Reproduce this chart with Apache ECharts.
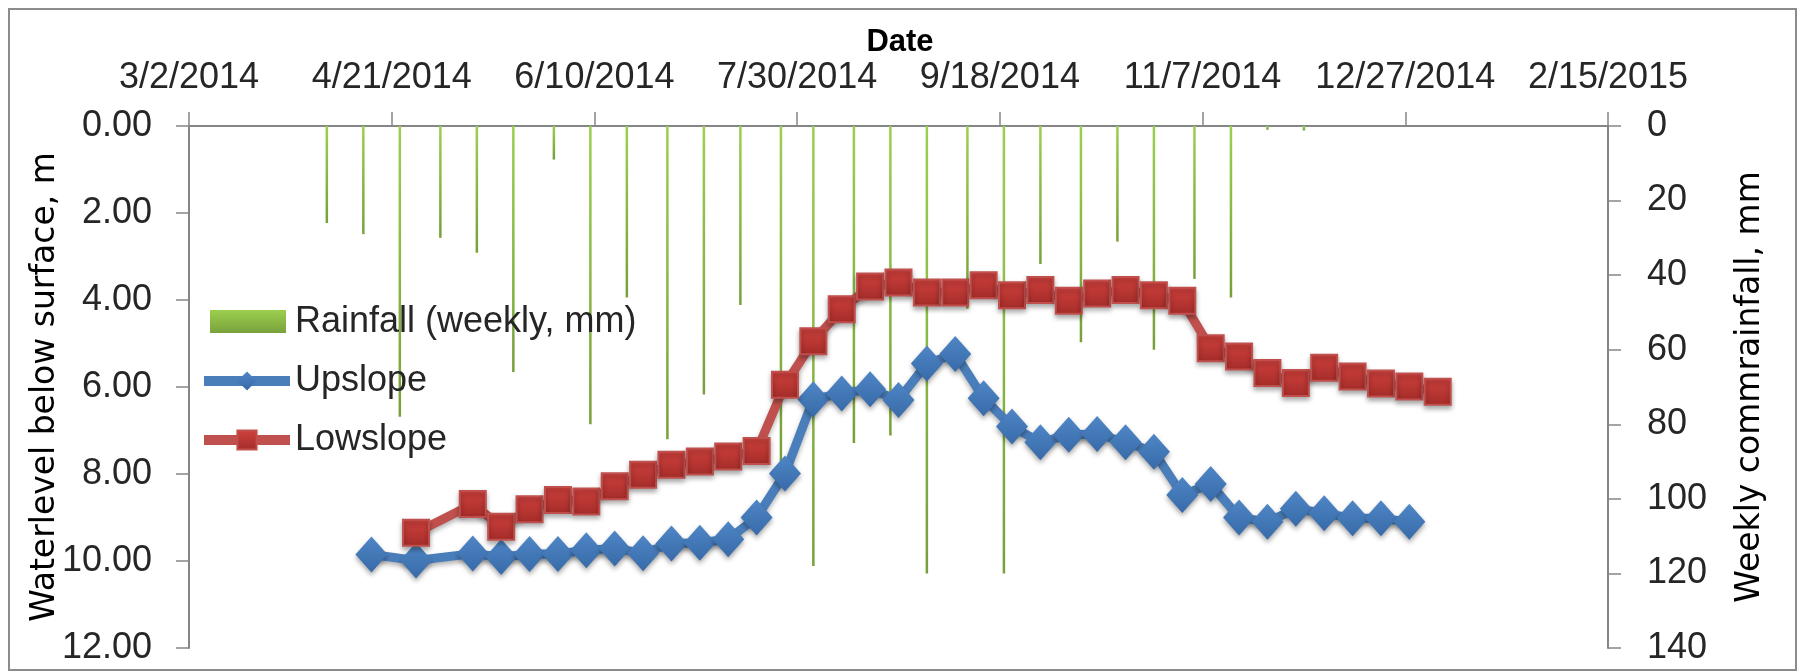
<!DOCTYPE html>
<html>
<head>
<meta charset="utf-8">
<script src="https://cdn.jsdelivr.net/npm/echarts@6/dist/echarts.min.js"></script>
<style>
  html, body { margin: 0; padding: 0; background: #fff; }
  #chart { width: 1801px; height: 672px; }
</style>
</head>
<body>
<div id="chart"></div>
<script>
// day 0 of the date axis
const startDate = '2014-03-02';

// weekly rainfall (mm)
const rainDates = ['2014-04-05', '2014-04-14', '2014-04-23', '2014-05-03', '2014-05-12', '2014-05-21',
    '2014-05-31', '2014-06-09', '2014-06-18', '2014-06-28', '2014-07-07', '2014-07-16', '2014-07-26',
    '2014-08-03', '2014-08-13', '2014-08-22', '2014-08-31', '2014-09-10', '2014-09-19', '2014-09-28',
    '2014-10-08', '2014-10-17', '2014-10-26', '2014-11-05', '2014-11-14', '2014-11-23', '2014-12-02'];
const rainfall = [26, 29, 78, 30, 34, 66, 9, 80, 46, 84, 72, 48, 90,
    118, 85, 83, 120, 49, 120, 37, 58, 31, 60, 41, 46, 1, 1.2];

// water level sampling dates
const sampleDates = ['2014-04-16', '2014-04-27', '2014-05-11', '2014-05-18', '2014-05-25', '2014-06-01',
    '2014-06-08', '2014-06-15', '2014-06-22', '2014-06-29', '2014-07-06', '2014-07-13', '2014-07-20',
    '2014-07-27', '2014-08-03', '2014-08-10', '2014-08-17', '2014-08-24', '2014-08-31', '2014-09-07',
    '2014-09-14', '2014-09-21', '2014-09-28', '2014-10-05', '2014-10-12', '2014-10-19', '2014-10-26',
    '2014-11-02', '2014-11-09', '2014-11-16', '2014-11-23', '2014-11-30', '2014-12-07', '2014-12-14',
    '2014-12-21', '2014-12-28', '2015-01-04'];
const upslope = [9.85, 9.99, 9.83, 9.91, 9.84, 9.84, 9.75, 9.71, 9.82, 9.60, 9.58, 9.50, 9.00,
    7.99, 6.28, 6.15, 6.05, 6.30, 5.46, 5.24, 6.26, 6.91, 7.27, 7.10, 7.08, 7.27, 7.49,
    8.48, 8.23, 9.00, 9.10, 8.80, 8.90, 9.02, 9.02, 9.10, null];
const lowslope = [null, 9.35, 8.69, 9.21, 8.81, 8.60, 8.63, 8.28, 8.02, 7.79, 7.71, 7.60, 7.47,
    5.95, 4.95, 4.21, 3.69, 3.60, 3.83, 3.83, 3.66, 3.89, 3.77, 4.02, 3.85, 3.77, 3.89,
    4.02, 5.11, 5.30, 5.68, 5.91, 5.56, 5.76, 5.92, 5.99, 6.11];

const DAY = 86400000;
const t0 = Date.parse(startDate + 'T00:00:00Z');
const toDay = (s) => Math.round((Date.parse(s + 'T00:00:00Z') - t0) / DAY);
const dayLabel = (v) => {
    const d = new Date(t0 + v * DAY);
    return (d.getUTCMonth() + 1) + '/' + d.getUTCDate() + '/' + d.getUTCFullYear();
};

const pairs = (dates, vals) => dates.map((d, i) => [toDay(d), vals[i]]);

const axisGrey = '#868686';
const labelFont = { fontFamily: 'Liberation Sans', fontSize: 36, color: '#262626' };

const chart = echarts.init(document.getElementById('chart'));
chart.setOption({
    backgroundColor: '#fff',
    animation: false,
    grid: { left: 189, right: 193, top: 126, bottom: 24 },
    legend: {
        orient: 'vertical',
        left: 194,
        top: 299,
        itemWidth: 86,
        itemHeight: 24,
        itemGap: 23,
        lineStyle: { width: 10 },
        textStyle: { fontFamily: 'Liberation Sans', fontSize: 36, color: '#262626' },
        data: [
            // swatch narrower than the line icons, with empty margins
            { name: 'Rainfall (weekly, mm)', icon: 'path://M0,0M86,24M6,0H82V23H6Z' },
            'Upslope',
            'Lowslope'
        ]
    },
    xAxis: {
        type: 'value',
        position: 'top',
        min: 0,
        max: 350,
        interval: 50,
        axisLine: { show: true, lineStyle: { color: axisGrey, width: 2 } },
        axisTick: { show: true, length: 14, lineStyle: { color: axisGrey, width: 1.5 } },
        axisLabel: Object.assign({ margin: 30, formatter: dayLabel }, labelFont),
        splitLine: { show: false }
    },
    yAxis: [
        {
            type: 'value',
            inverse: true,
            min: 0,
            max: 12,
            interval: 2,
            axisLine: { show: true, lineStyle: { color: axisGrey, width: 2 } },
            axisTick: { show: true, length: 13, lineStyle: { color: axisGrey, width: 1.5 } },
            axisLabel: Object.assign({ margin: 37, formatter: (v) => v.toFixed(2) }, labelFont),
            splitLine: { show: false }
        },
        {
            type: 'value',
            inverse: true,
            min: 0,
            max: 140,
            interval: 20,
            axisLine: { show: true, lineStyle: { color: axisGrey, width: 2 } },
            axisTick: { show: true, length: 13, lineStyle: { color: axisGrey, width: 1.5 } },
            axisLabel: Object.assign({ margin: 39 }, labelFont),
            splitLine: { show: false }
        }
    ],
    series: [
        {
            name: 'Rainfall (weekly, mm)',
            type: 'bar',
            yAxisIndex: 1,
            barWidth: 2.5,
            itemStyle: {
                color: new echarts.graphic.LinearGradient(0, 0, 0, 1, [
                    { offset: 0, color: '#9bcf4f' },
                    { offset: 1, color: '#77a03a' }
                ])
            },
            data: pairs(rainDates, rainfall)
        },
        {
            name: 'Upslope',
            type: 'line',
            yAxisIndex: 0,
            symbol: 'diamond',
            symbolSize: [32, 36],
            lineStyle: { color: '#4a7ebb', width: 9, shadowBlur: 5, shadowColor: 'rgba(0,0,0,0.3)', shadowOffsetY: 3 },
            itemStyle: {
                color: new echarts.graphic.LinearGradient(0, 0, 0, 1, [
                    { offset: 0, color: '#4f86c6' },
                    { offset: 1, color: '#376aa8' }
                ]),
                shadowBlur: 5, shadowColor: 'rgba(0,0,0,0.35)', shadowOffsetY: 3
            },
            data: pairs(sampleDates, upslope)
        },
        {
            name: 'Lowslope',
            type: 'line',
            yAxisIndex: 0,
            symbol: 'rect',
            symbolSize: 26,
            lineStyle: { color: '#c0504d', width: 9, shadowBlur: 5, shadowColor: 'rgba(0,0,0,0.3)', shadowOffsetY: 3 },
            itemStyle: {
                color: new echarts.graphic.LinearGradient(0, 0, 0, 1, [
                    { offset: 0, color: '#d0413d' },
                    { offset: 1, color: '#a42c29' }
                ]),
                borderColor: '#c0504d',
                borderWidth: 2,
                shadowBlur: 5, shadowColor: 'rgba(0,0,0,0.35)', shadowOffsetY: 3
            },
            data: pairs(sampleDates, lowslope)
        }
    ],
    graphic: [
        {
            type: 'rect',
            shape: { x: 9, y: 9, width: 1787, height: 661 },
            style: { fill: 'none', stroke: '#8c8c8c', lineWidth: 2 },
            silent: true
        },
        {
            type: 'text',
            x: 900, y: 42,
            style: { text: 'Date', font: 'bold 31px "Liberation Sans"', fill: '#000', align: 'center', verticalAlign: 'middle' }
        },
        {
            type: 'text',
            x: 45, y: 387,
            rotation: Math.PI / 2,
            style: { text: 'Waterlevel below surface, m', font: '33px "DejaVu Sans"', fill: '#000', align: 'center', verticalAlign: 'middle' }
        },
        {
            type: 'text',
            x: 1750, y: 387,
            rotation: Math.PI / 2,
            style: { text: 'Weekly commrainfall, mm', font: '33px "DejaVu Sans"', fill: '#000', align: 'center', verticalAlign: 'middle' }
        }
    ]
});
</script>
</body>
</html>
